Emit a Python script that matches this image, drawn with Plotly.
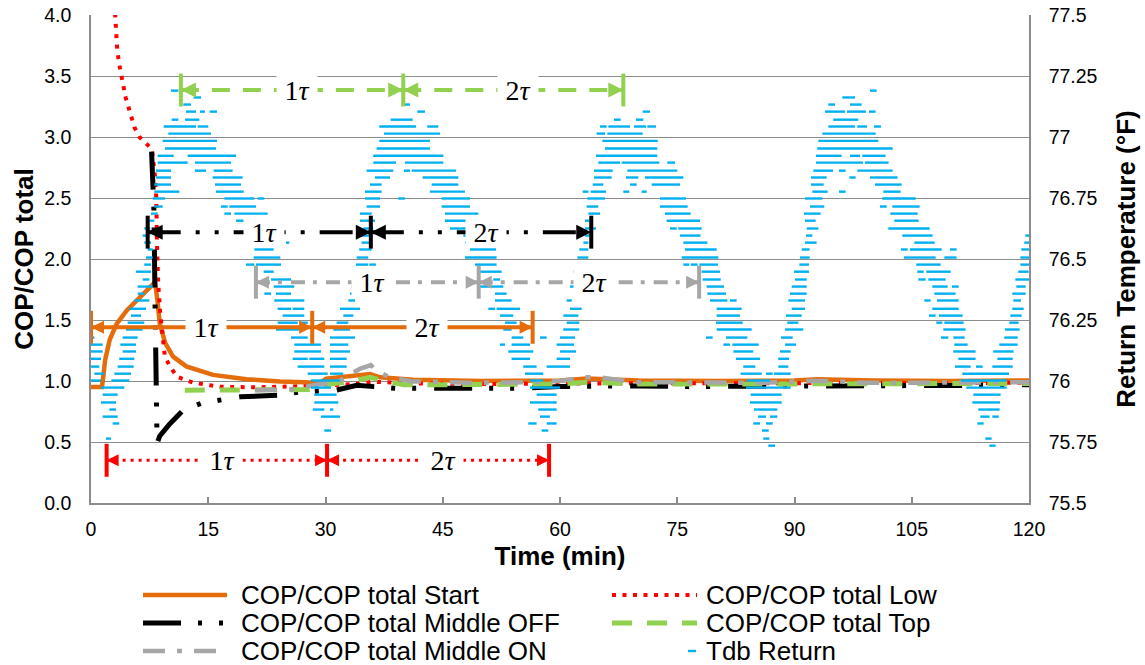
import plotly.graph_objects as go

# ---------------- normalised COP series (time in minutes) ----------------
time_start = [0, 1.4, 1.6, 1.8, 2.4, 3.3, 4.6, 6.3, 8.2, 8.5, 8.8, 9.5, 10.5, 12.2, 15.6, 19.9,
              24.2, 29.3, 30.1, 35.7, 37.0, 41.2, 50, 60, 63.5, 70, 80, 90, 93, 100, 110, 120]
cop_start = [0.95, 0.95, 1.05, 1.17, 1.34, 1.47, 1.58, 1.69, 1.81, 1.66, 1.47, 1.31, 1.20, 1.12, 1.05, 1.015,
             0.995, 0.985, 1.02, 1.057, 1.03, 1.01, 1.0, 1.005, 1.02, 1.005, 1.0, 1.005, 1.015, 1.005, 1.0, 1.005]

time_low = [3.0, 3.15, 3.35, 3.6, 3.9, 4.2, 4.45, 4.85, 5.2, 5.55, 6.2, 7.0, 7.8, 8.2, 8.35, 8.45, 8.6,
            8.85, 9.45, 10.1, 11.0, 13.1, 16.5, 20.8, 25, 28.4, 33.5, 36.1, 41.2, 50, 60, 70, 80, 90,
            100, 110, 120]
cop_low = [4.1, 3.85, 3.72, 3.6, 3.48, 3.4, 3.32, 3.24, 3.16, 3.08, 3.0, 2.95, 2.9, 2.67, 2.5, 2.1, 1.8,
           1.56, 1.2, 1.12, 1.035, 0.986, 0.953, 0.948, 0.953, 0.959, 0.975, 0.994, 0.98, 0.975, 0.98,
           0.98, 0.98, 0.98, 0.98, 0.98, 0.985]

time_mid_off = [7.75, 7.9, 8.05, 8.2, 8.3, 8.35, 8.45, 8.8, 10.1, 11.8, 14.2, 19.1, 24.2, 26.7, 31.4, 34.0,
                36.3, 39.0, 44, 50, 55, 60, 65, 70, 77, 82, 90, 95, 100, 110, 115, 120]
cop_mid_off = [2.88, 2.66, 2.4, 1.6, 0.95, 0.76, 0.49, 0.55, 0.65, 0.76, 0.82, 0.87, 0.885, 0.91, 0.926,
               0.965, 0.955, 0.94, 0.94, 0.945, 0.94, 0.955, 0.96, 0.96, 0.955, 0.955, 0.96, 0.96, 0.955,
               0.96, 0.965, 0.97]

time_top = [12, 15, 18, 22, 26, 28.4, 29.5, 31, 33, 35.7, 37.5, 40, 45, 50, 55, 60, 63.5, 70, 80, 90,
            100, 110, 120]
cop_top = [0.925, 0.925, 0.925, 0.925, 0.93, 0.93, 0.96, 0.98, 0.99, 1.03, 1.0, 0.97, 0.97, 0.97, 0.97,
           0.975, 0.99, 0.975, 0.975, 0.975, 0.975, 0.97, 0.98]

time_mid_on = [21, 23, 25.4, 29.3, 31.4, 34.4, 35.8, 36.4, 38.2, 41.2, 43.4, 48.3, 50.6, 56, 60, 63, 65,
               69.8, 72.4, 77.3, 80, 86, 92, 94.3, 99, 108, 113, 120]
cop_mid_on = [0.925, 0.926, 0.93, 0.975, 0.985, 1.10, 1.13, 1.09, 1.03, 0.995, 0.995, 0.985, 0.985, 0.99,
              1.0, 1.03, 1.03, 0.99, 0.99, 0.985, 0.985, 0.985, 1.0, 1.0, 0.985, 0.985, 0.985, 0.99]

# ---------------- return air dry-bulb temperature ----------------
# logged temperature levels (°F) and, for each level, the [start, end, start, end, ...]
# minute spans during which the logger reported that value
tdb_levels = [
    77.190, 77.162, 77.133, 77.104, 77.071, 77.043, 77.014, 76.984, 76.953, 76.923,
    76.895, 76.862, 76.834, 76.805, 76.776, 76.748, 76.715, 76.686, 76.657, 76.625,
    76.596, 76.567, 76.539, 76.506, 76.477, 76.448, 76.416, 76.387, 76.358, 76.330,
    76.296, 76.268, 76.239, 76.211, 76.178, 76.149, 76.121, 76.091, 76.059, 76.030,
    76.002, 75.973, 75.944, 75.912, 75.883, 75.854, 75.826, 75.797, 75.764, 75.735,
]
tdb_spans = [
    [10.23, 11.17, 99.66, 100.51],
    [13.13, 14.07, 96.12, 97.74],
    [11.81, 12.79, 39.74, 40.8, 94.33, 95.18, 97.1, 98.59],
    [12.15, 13.43, 13.94, 14.58, 15.18, 16.12, 41.74, 42.72, 70.58, 71.51, 93.9, 96.46, 96.71, 99.14,
     99.53, 100.38],
    [10.32, 11.17, 12.03, 13.86, 38.33, 41.15, 66.91, 67.76, 69.72, 70.66, 94.96, 98.16],
    [9.3, 13.43, 13.65, 15.01, 36.88, 41.57, 43.02, 44.43, 65.12, 65.97, 66.18, 68.96, 69.47, 71.0,
     71.17, 72.28, 94.33, 97.74, 98.03, 99.27, 100.17, 101.06],
    [9.89, 15.35, 37.48, 44.64, 64.69, 65.76, 66.06, 70.58, 93.56, 100.38],
    [9.17, 16.12, 36.88, 43.36, 65.42, 72.5, 93.05, 100.72],
    [9.47, 15.99, 36.54, 43.36, 65.76, 72.45, 92.92, 102.56],
    [8.53, 10.58, 12.37, 18.55, 36.11, 45.07, 64.61, 72.45, 92.75, 96.03, 97.1, 98.38, 98.67, 101.66],
    [8.53, 12.37, 13.3, 17.91, 36.11, 39.01, 40.16, 45.07, 64.9, 67.68, 67.89, 72.71, 73.73, 74.71,
     92.75, 98.76, 99.02, 102.04],
    [8.32, 10.23, 13.3, 14.71, 15.69, 18.12, 35.26, 38.67, 40.04, 40.8, 41.02, 46.69, 64.35, 66.74,
     68.61, 75.01, 92.41, 94.92, 95.69, 96.54, 98.03, 102.56],
    [8.32, 10.23, 15.57, 19.4, 36.33, 38.25, 42.43, 46.99, 64.35, 66.61, 68.44, 70.02, 70.87, 75.78,
     92.11, 94.11, 97.01, 97.82, 99.66, 103.19],
    [8.1, 10.23, 15.86, 19.19, 35.69, 37.18, 43.58, 46.99, 64.18, 65.54, 68.96, 69.81, 71.73, 75.35,
     92.11, 93.73, 100.3, 103.71],
    [8.1, 11.3, 15.99, 19.53, 35.05, 37.18, 43.36, 47.84, 62.9, 63.63, 63.92, 65.89, 68.1, 68.87,
     70.45, 71.09, 92.28, 94.24, 95.69, 96.54, 101.36, 103.58],
    [7.89, 9.47, 17.06, 20.9, 21.32, 22.17, 35.05, 36.97, 39.31, 40.16, 44.86, 48.48, 63.5, 65.76,
     72.79, 76.12, 91.34, 93.56, 101.23, 105.5],
    [8.1, 9.17, 16.63, 17.48, 17.7, 21.11, 35.26, 36.97, 44.86, 48.48, 63.41, 64.9, 72.79, 76.33,
     91.98, 93.81, 100.93, 101.79, 102.51, 106.01],
    [7.68, 8.53, 17.06, 17.91, 18.34, 22.6, 34.41, 35.9, 45.28, 49.55, 63.63, 65.12, 73.43, 76.72,
     91.22, 93.34, 102.26, 105.75],
    [7.46, 8.1, 18.55, 20.47, 34.41, 36.33, 45.28, 49.33, 63.2, 63.75, 73.65, 77.91, 91.34, 92.7,
     102.77, 105.88],
    [6.82, 7.59, 19.83, 20.38, 34.83, 36.11, 45.92, 48.91, 63.2, 64.61, 74.07, 74.93, 75.14, 78.12,
     91.56, 93.05, 102.0, 107.29],
    [6.61, 7.46, 20.04, 20.98, 34.41, 35.9, 47.63, 49.33, 63.2, 64.05, 75.35, 77.98, 91.47, 92.28,
     103.79, 107.67, 119.53, 120.34],
    [6.82, 7.68, 20.55, 21.66, 24.95, 25.37, 34.62, 35.9, 47.84, 49.55, 62.99, 63.63, 75.78, 78.85,
     91.34, 92.83, 105.33, 107.93, 119.4, 120.47],
    [7.25, 7.89, 20.9, 23.37, 34.32, 35.9, 48.48, 51.81, 62.47, 63.63, 75.99, 80.04, 90.92, 91.94,
     103.62, 104.47, 104.77, 108.82, 109.89, 110.74, 119.02, 120.34],
    [7.04, 7.89, 20.81, 24.22, 33.98, 35.47, 47.84, 51.89, 62.22, 63.63, 75.57, 80.26, 90.7, 91.94,
     104.01, 108.06, 109.17, 110.74, 118.89, 120.21],
    [6.82, 7.68, 19.83, 20.9, 21.11, 24.31, 33.9, 35.47, 35.6, 36.45, 49.12, 51.89, 75.78, 76.55,
     76.72, 77.61, 77.83, 80.21, 90.62, 91.85, 105.58, 108.7, 118.89, 120.21],
    [5.76, 7.68, 22.09, 23.37, 33.77, 35.26, 49.55, 52.53, 61.71, 62.77, 78.12, 80.47, 89.94, 91.86,
     105.71, 106.52, 106.86, 109.98, 118.63, 119.95],
    [6.61, 7.46, 23.03, 25.59, 33.56, 34.62, 51.47, 52.32, 78.25, 80.56, 90.06, 91.56, 105.84, 106.78,
     107.12, 109.34, 118.25, 120.08],
    [5.97, 7.89, 23.37, 26.01, 33.34, 34.83, 49.76, 52.75, 61.28, 62.35, 78.76, 80.98, 89.64, 91.56,
     107.63, 109.59, 110.15, 111.0, 118.38, 119.57],
    [5.97, 6.82, 22.17, 23.03, 23.67, 25.59, 33.13, 34.2, 51.68, 53.17, 78.85, 81.24, 89.43, 91.56,
     107.89, 110.61, 117.86, 119.57],
    [5.54, 7.46, 23.45, 27.29, 32.92, 33.77, 51.68, 53.81, 60.85, 61.5, 79.19, 81.41, 81.75, 82.6,
     89.21, 91.34, 106.61, 107.42, 108.23, 111.0, 117.99, 118.97],
    [4.9, 7.04, 23.88, 25.59, 25.8, 27.29, 31.85, 34.41, 50.83, 51.68, 51.89, 54.88, 61.28, 62.77,
     80.04, 83.24, 89.64, 91.34, 107.63, 111.0, 117.86, 119.31],
    [5.12, 6.4, 24.52, 27.29, 32.28, 33.56, 52.32, 54.02, 60.42, 62.35, 80.04, 83.03, 88.91, 90.92,
     107.2, 108.06, 108.48, 111.51, 117.61, 119.06],
    [4.69, 6.82, 23.88, 26.44, 26.65, 27.72, 31.42, 32.92, 52.96, 54.45, 60.85, 62.47, 79.96, 83.37,
     89.08, 90.49, 108.14, 108.91, 109.17, 111.64, 117.48, 118.67],
    [4.48, 6.61, 23.67, 27.29, 31.0, 33.13, 52.75, 53.81, 60.42, 62.47, 80.04, 84.52, 88.79, 91.13,
     109.04, 111.89, 116.93, 118.8],
    [0.0, 0.43, 4.05, 5.97, 25.59, 27.72, 30.57, 33.77, 53.81, 55.3, 57.44, 58.29, 59.99, 61.92,
     78.68, 79.53, 81.24, 83.97, 88.27, 89.77, 108.74, 109.68, 110.32, 111.77, 116.84, 118.55],
    [0.0, 1.49, 3.75, 5.76, 26.01, 29.42, 30.57, 32.92, 52.32, 52.96, 53.81, 56.16, 59.57, 61.79,
     80.9, 81.75, 82.05, 85.42, 88.79, 90.19, 110.44, 112.15, 116.2, 118.55],
    [0.0, 1.49, 4.05, 5.76, 26.01, 29.42, 30.57, 33.13, 53.38, 56.58, 59.99, 62.05, 82.18, 84.73,
     88.15, 89.51, 110.32, 113.17, 115.43, 118.03],
    [0.0, 1.28, 3.62, 5.54, 25.8, 27.72, 27.93, 29.85, 30.57, 32.7, 53.81, 56.16, 59.57, 61.28,
     82.52, 85.59, 87.93, 89.3, 110.96, 113.17, 115.95, 117.91],
    [0.0, 1.07, 3.41, 5.46, 26.44, 29.85, 30.57, 32.7, 55.3, 57.01, 58.29, 61.28, 83.45, 84.99,
     87.93, 89.21, 110.53, 112.53, 113.22, 114.07, 115.31, 117.91],
    [0.43, 1.71, 2.99, 5.12, 27.72, 30.28, 30.57, 32.28, 55.52, 57.86, 83.11, 85.8, 86.35, 87.21,
     87.38, 89.51, 111.47, 117.44],
    [0.0, 1.28, 2.6, 4.9, 28.14, 31.85, 56.16, 57.86, 83.88, 86.87, 111.3, 117.14],
    [1.28, 4.26, 28.14, 30.7, 56.16, 59.99, 83.8, 89.51, 111.98, 117.14],
    [1.49, 3.41, 28.57, 31.42, 57.01, 59.57, 84.39, 88.36, 112.88, 116.37],
    [1.28, 3.2, 28.57, 31.64, 56.16, 59.57, 84.31, 88.36, 112.75, 116.29],
    [2.35, 3.2, 28.36, 29.85, 30.57, 31.0, 57.22, 59.57, 84.82, 87.8, 113.52, 116.24],
    [1.49, 3.41, 29.42, 31.85, 57.44, 58.71, 85.33, 86.35, 86.87, 87.8, 113.77, 114.96, 115.31, 116.12],
    [2.77, 3.62, 55.94, 57.01, 58.29, 59.57, 84.73, 85.59, 86.35, 87.21, 113.39, 114.2],
    [29.85, 30.7, 57.65, 58.5, 85.84, 86.7],
    [1.92, 2.56, 86.01, 86.78, 114.41, 115.22],
    [86.65, 87.51, 114.92, 115.73],
]

# ---------------- time-constant markers (1τ / 2τ) ----------------
tau_series = ["Start", "Low", "Middle OFF", "Middle ON", "Top"]
tau_origin = [0.0, 2.0, 7.25, 21.1, 11.5]
tau_one = [28.3, 30.2, 35.8, 49.6, 39.95]
tau_two = [56.5, 58.6, 64.0, 77.8, 68.1]
tau_cop = [1.44, 0.35, 2.22, 1.81, 3.385]

# ---------------- axis ticks ----------------
time_ticks = [0, 15, 30, 45, 60, 75, 90, 105, 120]
cop_ticks = [0.0, 0.5, 1.0, 1.5, 2.0, 2.5, 3.0, 3.5, 4.0]
temp_ticks = [75.5, 75.75, 76.0, 76.25, 76.5, 76.75, 77.0, 77.25, 77.5]
temp_tick_text = ["75.5", "75.75", "76", "76.25", "76.5", "76.75", "77", "77.25", "77.5"]

# ---------------- styling ----------------
ORANGE = "#E46C0A"
RED = "#FF0000"
BLACK = "#000000"
GREY = "#A6A6A6"
GREEN = "#92D050"
BLUE = "#00B0F0"
AXIS = "#8C8C8C"
SANS = "Liberation Sans, Arial, sans-serif"
SERIF = "Liberation Serif, DejaVu Serif, serif"

series_style = {
    "Start": dict(color=ORANGE, width=4.5, dash="solid"),
    "Low": dict(color=RED, width=4, dash="4px,6.5px"),
    "Middle OFF": dict(color=BLACK, width=5, dash="38px,17px,4px,17px,4px,18px"),
    "Top": dict(color=GREEN, width=5, dash="20px,15px"),
    "Middle ON": dict(color=GREY, width=4.5, dash="22px,12px,5px,12px"),
}
arrow_style = {
    "Start": dict(color=ORANGE, width=4, dash="solid", head=13),
    "Low": dict(color=RED, width=3, dash="3px,5px", head=12),
    "Middle OFF": dict(color=BLACK, width=4, dash="33px,15px,4px,15px,4px,15px", head=15),
    "Middle ON": dict(color=GREY, width=4, dash="14px,8px,4px,9px", head=13),
    "Top": dict(color=GREEN, width=4, dash="18px,13px", head=15),
}
BAR_HALF = 0.135

series = [
    ("Start", time_start, cop_start),
    ("Low", time_low, cop_low),
    ("Middle OFF", time_mid_off, cop_mid_off),
    ("Top", time_top, cop_top),
    ("Middle ON", time_mid_on, cop_mid_on),
]

fig = go.Figure()

for name, t, v in series:
    fig.add_trace(go.Scatter(
        x=t, y=v, mode="lines", name="COP/COP total " + name,
        line=dict(**series_style[name]),
        yaxis="y", hoverinfo="skip",
    ))

# temperature spans as short horizontal strokes on the secondary axis
tx, ty = [], []
for level, spans in zip(tdb_levels, tdb_spans):
    for i in range(0, len(spans), 2):
        tx += [spans[i], spans[i + 1], None]
        ty += [level, level, None]
fig.add_trace(go.Scatter(
    x=tx, y=ty, mode="lines", name="Tdb Return", yaxis="y2",
    line=dict(color=BLUE, width=2.4), connectgaps=False, hoverinfo="skip",
))

# τ arrows on an overlay axis so they sit above the temperature strokes
annotations = []
for name, o, t1, t2, lvl in zip(tau_series, tau_origin, tau_one, tau_two, tau_cop):
    st = arrow_style[name]
    fig.add_trace(go.Scatter(
        x=[o, t1, None, t1, t2], y=[lvl, lvl, None, lvl, lvl], yaxis="y3", mode="lines",
        line=dict(color=st["color"], width=st["width"], dash=st["dash"]),
        connectgaps=False, hoverinfo="skip",
    ))
    bx, by = [], []
    for xb in (o, t1, t2):
        bx += [xb, xb, None]
        by += [lvl - BAR_HALF, lvl + BAR_HALF, None]
    fig.add_trace(go.Scatter(
        x=bx, y=by, yaxis="y3", mode="lines", connectgaps=False,
        line=dict(color=st["color"], width=4), hoverinfo="skip",
    ))
    fig.add_trace(go.Scatter(
        x=[o, t1, t1, t2], y=[lvl] * 4, yaxis="y3", mode="markers",
        marker=dict(symbol=["arrow-left", "arrow-right", "arrow-left", "arrow-right"],
                    size=st["head"], color=st["color"], line=dict(width=0)),
        hoverinfo="skip",
    ))
    for k, (a, b) in enumerate(((o, t1), (t1, t2)), start=1):
        annotations.append(dict(
            x=(a + b) / 2 + 0.6, y=lvl, xref="x", yref="y",
            text=f"{k}<i>τ</i>", showarrow=False,
            font=dict(family=SERIF, size=28, color="black"),
            bgcolor="white", width=40, height=29, borderpad=0,
            xanchor="center", yanchor="middle",
        ))

# ---------------- legend drawn below the plot ----------------
PLOT_L, PLOT_R, PLOT_T, PLOT_B = 91, 1029, 15, 503


def px_x(p):
    return (p - PLOT_L) / (PLOT_R - PLOT_L)


def px_y(p):
    return (PLOT_B - p) / (PLOT_B - PLOT_T)


legend_entries = [
    ("COP/COP total Start", "Start", 0, 0),
    ("COP/COP total Low", "Low", 1, 0),
    ("COP/COP total Middle OFF", "Middle OFF", 0, 1),
    ("COP/COP total Top", "Top", 1, 1),
    ("COP/COP total Middle ON", "Middle ON", 0, 2),
    ("Tdb Return", None, 1, 2),
]
col_sample = [(143, 227), (612, 697)]
col_text = [239, 704]
row_y = [595, 623, 651]

shapes = []
for label, key, col, row in legend_entries:
    yy = px_y(row_y[row])
    if key is None:
        shapes.append(dict(type="line", xref="paper", yref="paper",
                           x0=px_x(688), x1=px_x(696), y0=yy, y1=yy,
                           line=dict(color=BLUE, width=2.4)))
    else:
        st = series_style[key]
        shapes.append(dict(type="line", xref="paper", yref="paper",
                           x0=px_x(col_sample[col][0]), x1=px_x(col_sample[col][1]), y0=yy, y1=yy,
                           line=dict(color=st["color"], width=st["width"], dash=st["dash"])))
    annotations.append(dict(
        x=px_x(col_text[col]), y=yy, xref="paper", yref="paper", text=label,
        showarrow=False, xanchor="left", yanchor="middle",
        font=dict(family=SANS, size=26, color="black"),
    ))

fig.update_layout(
    width=1145, height=665,
    margin=dict(l=PLOT_L, r=1145 - PLOT_R, t=PLOT_T, b=665 - PLOT_B, autoexpand=False),
    paper_bgcolor="white", plot_bgcolor="white",
    showlegend=False,
    font=dict(family=SANS, color="black", size=20),
    xaxis=dict(
        range=[0, 120], tickvals=time_ticks, ticks="inside", ticklen=6, tickwidth=1.5,
        tickcolor=AXIS, showline=True, linecolor=AXIS, linewidth=1.5, showgrid=False,
        zeroline=False, tickfont=dict(size=19.5), ticklabelstandoff=8, automargin=False,
        title=dict(text="<b>Time (min)</b>", font=dict(size=26), standoff=8),
    ),
    yaxis=dict(
        range=[0, 4], tickvals=cop_ticks, tickformat=".1f", showgrid=True, gridcolor=AXIS,
        gridwidth=1, showline=True, linecolor=AXIS, linewidth=1.5, zeroline=False, ticks="",
        tickfont=dict(size=19.5), ticklabelstandoff=14, automargin=False,
        title=dict(text="<b>COP/COP total</b>", font=dict(size=26), standoff=3),
    ),
    yaxis2=dict(
        overlaying="y", side="right", range=[75.5, 77.5], tickvals=temp_ticks,
        ticktext=temp_tick_text, showgrid=False, showline=True, linecolor=AXIS, linewidth=1.5,
        zeroline=False, ticks="", tickfont=dict(size=19.5), ticklabelstandoff=14, automargin=False,
        title=dict(text="<b>Return Temperature (°F)</b>", font=dict(size=26), standoff=20),
    ),
    yaxis3=dict(overlaying="y", range=[0, 4], visible=False),
    shapes=shapes,
    annotations=annotations,
)

fig.write_html("out.html")
